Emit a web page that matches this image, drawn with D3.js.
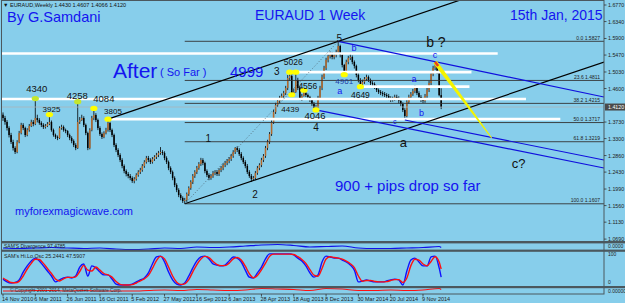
<!DOCTYPE html>
<html>
<head>
<meta charset="utf-8">
<script src="https://cdn.jsdelivr.net/npm/d3@7/dist/d3.min.js"></script>
<style>
body { margin: 0; background: #87ceeb; }
svg { display: block; font-family: "Liberation Sans", Arial, sans-serif; }
</style>
</head>
<body>
<svg id="chart" width="625" height="303"></svg>
<script>
// weekly EURAUD candles, week 0 = 14 Nov 2010
const FIRST_OPEN = 1.3920;
const CLOSES = [
  1.3835,1.3731,1.3575,1.3393,1.3212,1.3056,1.2952,1.3212,1.3445,1.3654,
  1.3575,1.3393,1.3523,1.3628,1.3731,1.3680,1.3835,1.3783,1.3706,1.3654,
  1.3602,1.3628,1.3680,1.3731,1.3523,1.3393,1.3342,1.3316,1.3575,1.3602,
  1.3523,1.3497,1.3393,1.3316,1.3238,1.3134,1.3056,1.3731,1.3783,1.3835,
  1.3654,1.3445,1.3056,1.3523,1.3835,1.3913,1.3783,1.3575,1.3419,1.3342,
  1.3445,1.3523,1.3706,1.3523,1.3393,1.3134,1.3004,1.2874,1.2744,1.2588,
  1.2458,1.2381,1.2329,1.2277,1.2199,1.2251,1.2355,1.2432,1.2484,1.2588,
  1.2692,1.2796,1.2744,1.2692,1.2770,1.2822,1.2874,1.2926,1.2952,1.2926,
  1.2796,1.2692,1.2536,1.2432,1.2277,1.2095,1.1965,1.1835,1.1757,1.1679,
  1.1705,1.1861,1.2017,1.2173,1.2329,1.2432,1.2536,1.2640,1.2744,1.2666,
  1.2458,1.2355,1.2277,1.2329,1.2407,1.2432,1.2381,1.2484,1.2536,1.2614,
  1.2666,1.2718,1.2770,1.2848,1.2952,1.3056,1.3004,1.2900,1.2796,1.2692,
  1.2588,1.2432,1.2329,1.2251,1.2277,1.2407,1.2536,1.2614,1.2744,1.2848,
  1.3056,1.3212,1.3419,1.3731,1.3991,1.4173,1.4277,1.4355,1.4406,1.4484,
  1.4614,1.4874,1.4926,1.4458,1.4510,1.4822,1.4614,1.4355,1.4406,1.4484,
  1.4432,1.4381,1.4303,1.4199,1.4095,1.4121,1.4355,1.4614,1.4900,1.5134,
  1.5342,1.5445,1.5497,1.5419,1.5471,1.5549,1.5705,1.5471,1.5212,1.5030,
  1.5290,1.5394,1.5419,1.5290,1.5186,1.4952,1.4822,1.4718,1.4770,1.4848,
  1.4900,1.4822,1.4744,1.4718,1.4640,1.4562,1.4510,1.4484,1.4458,1.4432,
  1.4406,1.4355,1.4303,1.4329,1.4381,1.4355,1.4277,1.4199,1.4043,1.3887,
  1.4251,1.4381,1.4458,1.4536,1.4614,1.4484,1.4381,1.4303,1.4277,1.4406,
  1.4562,1.4744,1.4978,1.5134,1.5186,1.5030,1.4430,1.4120
];
const HIGHS = [
  1.398,1.389,1.378,1.362,1.345,1.327,1.310,1.326,1.350,1.371,
  1.370,1.361,1.357,1.368,1.379,1.378,1.434,1.392,1.383,1.375,
  1.370,1.368,1.373,1.3925,1.377,1.356,1.343,1.338,1.362,1.366,
  1.364,1.356,1.352,1.343,1.336,1.328,1.318,1.4258,1.386,1.392,
  1.388,1.369,1.348,1.357,1.389,1.4084,1.396,1.382,1.362,1.346,
  1.349,1.358,1.3805,1.374,1.356,1.343,1.318,1.305,1.292,1.279,
  1.263,1.250,1.243,1.238,1.232,1.230,1.240,1.248,1.254,1.264,
  1.274,1.285,1.285,1.279,1.282,1.287,1.293,1.298,1.308,1.300,
  1.297,1.284,1.273,1.258,1.247,1.232,1.214,1.201,1.188,1.180,
  1.176,1.190,1.206,1.222,1.238,1.248,1.259,1.269,1.280,1.279,
  1.270,1.250,1.240,1.238,1.246,1.248,1.248,1.253,1.259,1.266,
  1.272,1.277,1.282,1.290,1.300,1.308,1.310,1.305,1.295,1.284,
  1.274,1.264,1.248,1.238,1.233,1.246,1.259,1.266,1.280,1.290,
  1.311,1.327,1.347,1.379,1.405,1.423,1.434,1.441,1.447,1.454,
  1.467,1.495,1.5026,1.497,1.460,1.5026,1.488,1.466,1.446,1.4556,
  1.452,1.447,1.441,1.434,1.425,1.418,1.441,1.467,1.496,1.519,
  1.540,1.551,1.556,1.555,1.553,1.561,1.5827,1.574,1.552,1.524,
  1.535,1.545,1.550,1.546,1.533,1.522,1.500,1.487,1.483,1.490,
  1.496,1.494,1.486,1.479,1.476,1.468,1.460,1.456,1.453,1.451,
  1.448,1.446,1.440,1.439,1.444,1.444,1.440,1.432,1.424,1.409,
  1.431,1.444,1.451,1.459,1.4692,1.466,1.453,1.443,1.436,1.446,
  1.462,1.480,1.503,1.519,1.5289,1.524,1.508,1.4607
];
const LOWS = [
  1.376,1.366,1.351,1.333,1.316,1.299,1.290,1.292,1.318,1.341,
  1.352,1.334,1.336,1.348,1.360,1.362,1.365,1.372,1.366,1.360,
  1.355,1.356,1.360,1.365,1.348,1.335,1.329,1.326,1.329,1.353,
  1.348,1.344,1.334,1.326,1.318,1.308,1.300,1.303,1.368,1.376,
  1.360,1.339,1.300,1.302,1.349,1.378,1.373,1.352,1.337,1.329,
  1.331,1.341,1.348,1.347,1.334,1.308,1.295,1.282,1.269,1.253,
  1.240,1.232,1.227,1.222,1.215,1.214,1.221,1.231,1.238,1.244,
  1.254,1.265,1.269,1.264,1.265,1.272,1.277,1.282,1.288,1.287,
  1.274,1.264,1.248,1.238,1.222,1.204,1.191,1.178,1.170,1.163,
  1.1607,1.166,1.181,1.197,1.212,1.228,1.238,1.249,1.259,1.261,
  1.240,1.230,1.222,1.223,1.228,1.235,1.233,1.233,1.243,1.248,
  1.256,1.261,1.266,1.272,1.280,1.290,1.295,1.285,1.274,1.264,
  1.253,1.238,1.228,1.2173,1.220,1.223,1.236,1.248,1.256,1.269,
  1.280,1.300,1.316,1.337,1.368,1.394,1.412,1.422,1.430,1.435,
  1.443,1.456,1.480,1.4439,1.445,1.449,1.456,1.430,1.428,1.439,
  1.438,1.432,1.425,1.415,1.405,1.4046,1.409,1.431,1.456,1.485,
  1.508,1.528,1.538,1.536,1.536,1.541,1.550,1.541,1.515,1.4961,
  1.500,1.523,1.534,1.523,1.512,1.489,1.476,1.4649,1.467,1.472,
  1.480,1.477,1.469,1.466,1.459,1.451,1.446,1.443,1.440,1.438,
  1.435,1.430,1.425,1.426,1.428,1.430,1.422,1.414,1.399,1.3783,
  1.385,1.420,1.433,1.441,1.448,1.443,1.433,1.425,1.422,1.423,
  1.435,1.451,1.469,1.492,1.508,1.498,1.440,1.4066
];

const DATE_LABELS = ['14 Nov 2010','6 Mar 2011','26 Jun 2011','16 Oct 2011','5 Feb 2012',
  '27 May 2012','16 Sep 2012','6 Jan 2013','28 Apr 2013','18 Aug 2013','8 Dec 2013',
  '30 Mar 2014','20 Jul 2014','9 Nov 2014'];
const DATE_WEEKS = [0,16,32,48,64,80,96,112,128,144,160,176,192,208];
const PRICE_TICKS = [1.6770,1.6340,1.5900,1.5470,1.5030,1.4600,1.3730,1.3300,1.2860,1.2430,1.1990,1.1560,1.1130,1.0690];
const LAST_PRICE = 1.4120;

const FIB_LEVELS = ['0.0','23.6','38.2','50.0','61.8','100.0'];
const FIB_PRICES = [1.5827,1.4811,1.4215,1.3717,1.3219,1.1607];
const FIB_START_WEEK = 90;

const PIVOT_LABELS = ['4340','3925','4258','4084','3805','5026','','4439','4556','4046','4961','4649'];
const PIVOT_WEEKS  = [16,23,37,45,52,142,145,143,149,155,169,177];
const PIVOT_PRICES = [1.4340,1.3925,1.4258,1.4084,1.3805,1.5026,1.5026,1.4439,1.4556,1.4046,1.4961,1.4649];

const WHITE_LEVELS = [1.5510,1.5026,1.4649,1.4330,1.3805];
const WHITE_FROM   = [-2,142,177,-2,52];
const WHITE_TO     = [245,232,231,259,276];

// trend lines as [week, price] pairs
const CHANNEL_UPPER = [[52,1.3805],[166,1.5827]];
const CHANNEL_LOWER = [[90,1.1607],[217,1.3859]];
const BLUE_UPPER = [[166,1.5827],[297.6,1.4380]];
const BLUE_MID = [[155,1.4046],[297.6,1.2536]];
const BLUE_LOW = [[199,1.3783],[297.6,1.2744]];
const DOTTED = [[90,1.1607],[166,1.5827]];
const YELLOW = [[214,1.5289],[242,1.3315]];

const WAVE_TEXT  = ['1','2','3','4','5','a','b ?','c?'];
const WAVE_WEEKS = [101.7,124.8,135.6,155,166.6,198.3,214.4,255.4];
const WAVE_PRICES = [1.3212,1.1757,1.4952,1.3505,1.5809,1.3082,1.5670,1.2536];
const SUB_TEXT  = ['b','a','a','b','c','c'];
const SUB_WEEKS = [173.8,166.8,203.5,207.2,213.9,194];
const SUB_PRICES = [1.5575,1.4470,1.4770,1.3887,1.5395,1.3679];

// indicator values, every second week, last one = week 217
const HILO_BLUE = [14,4,0,2,11,39,61,79,89,79,61,43,25,4,11,18,21,18,25,57,68,25,61,54,39,29,29,14,-4,-7,
  -7,-7,-4,4,11,18,36,68,93,96,75,39,11,-4,-7,0,25,54,79,93,96,86,68,64,61,64,79,93,89,75,
  46,21,18,36,57,86,104,104,104,104,104,104,100,89,79,61,36,21,29,75,96,93,89,89,82,75,64,46,4,7,
  11,7,4,4,4,7,11,14,11,-7,43,82,89,75,61,61,93,96,54,21];
const HILO_RED = [18,9,2,1,6,25,50,70,85,84,70,52,34,14,7,15,20,20,22,41,63,46,43,57,46,34,29,21,5,-5,
  -7,-7,-6,0,8,15,27,52,80,95,86,57,25,3,-5,-3,12,40,66,86,95,91,77,66,62,62,71,86,91,82,
  60,33,19,27,47,71,95,103,103,103,103,103,102,94,84,70,48,28,24,52,86,94,91,89,85,78,69,55,25,6,
  9,9,6,4,4,5,9,12,12,2,18,62,85,82,68,61,77,94,75,50];
// every eighth week, last one = week 217
const DIVERGENCE = [97.0,96.75,97.0,97.25,97.0,96.75,97.0,96.5,96.25,96.5,97.0,96.75,97.5,97.25,97.5,
  98.0,98.5,98.75,98.25,97.5,97.75,98.0,97.0,96.75,96.75,97.0,97.25,97.75,97.25];
const LOWER_OSC = [4,4,5,5,4,5,4,4,4,5,6,5,7,6,5,6,9,8,7,5,9,8,5,5,6,5,6,9,7];

const LAST_WEEK = CLOSES.length - 1;
const BLUE_TEXT = '#1414f0';

const svg = d3.select('#chart');
const x = d3.scaleLinear().domain([0, 208]).range([3, 423]);
const y = d3.scaleLinear().domain([1.677, 1.069]).range([5, 239.1]);
const yDiv = d3.scaleLinear().domain([95.5, 99.5]).range([251, 243]);
const yOsc = d3.scaleLinear().domain([0, 100]).range([283, 255]);
const yLow = d3.scaleLinear().domain([0, 10]).range([293, 288]);
const RIGHT = 604;
const rightWeek = x.invert(RIGHT);

svg.append('rect').attr('width', 625).attr('height', 303).attr('fill', '#87ceeb');

svg.append('clipPath').attr('id', 'main')
  .append('rect').attr('x', 2).attr('y', 0).attr('width', RIGHT - 2).attr('height', 241);

const main = svg.append('g').attr('clip-path', 'url(#main)');

// candles
const candles = CLOSES.map((c, i) => ({
  i, c, o: i ? CLOSES[i - 1] : FIRST_OPEN, h: HIGHS[i], l: LOWS[i]
}));
const cg = main.append('g');
cg.selectAll('.wick').data(candles).enter().append('line')
  .attr('x1', d => x(d.i)).attr('x2', d => x(d.i))
  .attr('y1', d => y(d.h)).attr('y2', d => y(d.l))
  .attr('stroke', '#000').attr('stroke-width', 0.8);
cg.selectAll('.body').data(candles).enter().append('rect')
  .attr('x', d => x(d.i) - 0.75).attr('width', 1.5)
  .attr('y', d => y(Math.max(d.o, d.c)))
  .attr('height', d => Math.max(0.8, Math.abs(y(d.o) - y(d.c))))
  .attr('fill', d => d.c >= d.o ? '#b5692b' : '#000');

// white horizontal levels
main.selectAll('.white').data(WHITE_LEVELS).enter().append('line')
  .attr('x1', (d, i) => x(WHITE_FROM[i])).attr('x2', (d, i) => x(WHITE_TO[i]))
  .attr('y1', d => y(d)).attr('y2', d => y(d))
  .attr('stroke', '#fff').attr('stroke-width', 2.6);

// bid line
main.append('line').attr('x1', 2).attr('x2', RIGHT)
  .attr('y1', y(LAST_PRICE)).attr('y2', y(LAST_PRICE))
  .attr('stroke', '#a9b4bb').attr('stroke-width', 0.8);

// fibonacci levels
main.selectAll('.fib').data(FIB_PRICES).enter().append('line')
  .attr('x1', x(FIB_START_WEEK)).attr('x2', RIGHT)
  .attr('y1', d => y(d)).attr('y2', d => y(d))
  .attr('stroke', '#333').attr('stroke-width', 0.9);
main.selectAll('.fibt').data(FIB_PRICES).enter().append('text')
  .attr('x', 600).attr('y', d => y(d) - 1.5)
  .attr('text-anchor', 'end').attr('font-size', 5).attr('fill', '#222')
  .text((d, i) => FIB_LEVELS[i] + '  ' + d.toFixed(4));

// trend lines, extended to the right edge where needed
function extend(seg, toWeek) {
  const [[w1, p1], [w2, p2]] = seg;
  const k = (p2 - p1) / (w2 - w1);
  return [[w1, p1], [toWeek, p1 + k * (toWeek - w1)]];
}
function drawSeg(seg, color, width, dash) {
  main.append('line')
    .attr('x1', x(seg[0][0])).attr('y1', y(seg[0][1]))
    .attr('x2', x(seg[1][0])).attr('y2', y(seg[1][1]))
    .attr('stroke', color).attr('stroke-width', width)
    .attr('stroke-dasharray', dash || null);
}
drawSeg(extend(CHANNEL_UPPER, 260), '#000', 1.2);
drawSeg(extend(CHANNEL_LOWER, rightWeek), '#000', 1.2);
drawSeg(BLUE_UPPER, '#1010dd', 1.2);
drawSeg(BLUE_MID, '#1010dd', 1.2);
drawSeg(BLUE_LOW, '#1010dd', 1.2);
drawSeg(DOTTED, '#4a5a66', 0.8, '1,2');

// yellow tapered arrow from the c top
{
  const [a, b] = YELLOW;
  const x1 = x(a[0]), y1 = y(a[1]), x2 = x(b[0]), y2 = y(b[1]);
  const len = Math.hypot(x2 - x1, y2 - y1);
  const nx = -(y2 - y1) / len, ny = (x2 - x1) / len;
  const w1 = 2.2, w2 = 0.5;
  main.append('polygon')
    .attr('points', [[x1 + nx * w1, y1 + ny * w1], [x2 + nx * w2, y2 + ny * w2],
      [x2 - nx * w2, y2 - ny * w2], [x1 - nx * w1, y1 - ny * w1]].map(p => p.join(',')).join(' '))
    .attr('fill', '#f4f400');
  const t = 5 / len;
  main.append('line').attr('x1', x1).attr('y1', y1)
    .attr('x2', x1 + (x2 - x1) * t).attr('y2', y1 + (y2 - y1) * t)
    .attr('stroke', '#e8401a').attr('stroke-width', 2.5);
}

// pivot markers and labels
const pivOffsets = [[1.5,-7],[2,-2.5],[-0.5,-3],[10,-6],[5,-5],[3.5,-7],[0,0],[-1.5,17],[4,-1],[-1,9.5],[0,9],[0,11]];
const pivSizes = [9.5,8,9.5,9.5,8,8.5,8,8,8.5,9.5,8,8.5];
main.selectAll('.piv').data(PIVOT_PRICES).enter().append('ellipse')
  .attr('cx', (d, i) => x(PIVOT_WEEKS[i])).attr('cy', d => y(d))
  .attr('rx', 3.6).attr('ry', 2.6)
  .attr('fill', (d, i) => (i === 0 || i === 2) ? '#c4e62c' : '#ffff00');
main.selectAll('.pivt').data(PIVOT_PRICES).enter().append('text')
  .attr('x', (d, i) => x(PIVOT_WEEKS[i]) + pivOffsets[i][0])
  .attr('y', (d, i) => y(d) + pivOffsets[i][1])
  .attr('text-anchor', 'middle')
  .attr('font-size', (d, i) => pivSizes[i])
  .attr('fill', (d, i) => i === 10 ? '#1f3fa8' : '#111')
  .text((d, i) => PIVOT_LABELS[i]);

// wave counts
const waveSizes = [10,10,10,10,10,13,14,13];
main.selectAll('.wave').data(WAVE_TEXT).enter().append('text')
  .attr('x', (d, i) => x(WAVE_WEEKS[i])).attr('y', (d, i) => y(WAVE_PRICES[i]))
  .attr('text-anchor', 'middle').attr('font-size', (d, i) => waveSizes[i])
  .attr('fill', '#111').text(d => d);
main.selectAll('.sub').data(SUB_TEXT).enter().append('text')
  .attr('x', (d, i) => x(SUB_WEEKS[i])).attr('y', (d, i) => y(SUB_PRICES[i]))
  .attr('text-anchor', 'middle').attr('font-size', (d, i) => i === 5 ? 7 : 9)
  .attr('fill', BLUE_TEXT).text(d => d);

// headline texts
const texts = [
  ['By G.Samdani', 7, 22, 14.5],
  ['EURAUD 1 Week', 255, 20, 14],
  ['15th Jan, 2015', 510, 20, 14],
  ['After', 113, 78, 21],
  ['( So Far )', 160, 76, 11],
  ['4999', 230, 77, 15],
  ['900 + pips drop so far', 335, 191, 15],
  ['myforexmagicwave.com', 15, 215, 11]
];
main.selectAll('.head').data(texts).enter().append('text')
  .attr('x', d => d[1]).attr('y', d => d[2]).attr('font-size', d => d[3])
  .attr('fill', BLUE_TEXT).text(d => d[0]);
main.append('text').attr('x', 3).attr('y', 7).attr('font-size', 5.5).attr('fill', '#111')
  .text('\u25BC EURAUD,Weekly  1.4430 1.4607 1.4066 1.4120');

// indicator panels
const oscWeeks = HILO_BLUE.map((d, i) => Math.min(i * 2, LAST_WEEK));
const slowWeeks = DIVERGENCE.map((d, i) => Math.min(i * 8, LAST_WEEK));
const curve = d3.curveMonotoneX;
svg.append('path').datum(DIVERGENCE)
  .attr('d', d3.line().x((d, i) => x(slowWeeks[i])).y(d => yDiv(d)).curve(curve))
  .attr('fill', 'none').attr('stroke', '#1010e8').attr('stroke-width', 1.2);
svg.append('path').datum(HILO_BLUE)
  .attr('d', d3.line().x((d, i) => x(oscWeeks[i])).y(d => yOsc(d)).curve(curve))
  .attr('fill', 'none').attr('stroke', '#1010ff').attr('stroke-width', 1.4);
svg.append('path').datum(HILO_RED)
  .attr('d', d3.line().x((d, i) => x(oscWeeks[i])).y(d => yOsc(d)).curve(curve))
  .attr('fill', 'none').attr('stroke', '#ff1010').attr('stroke-width', 1.4);
svg.append('path').datum(LOWER_OSC)
  .attr('d', d3.line().x((d, i) => x(slowWeeks[i])).y(d => yLow(d)).curve(curve))
  .attr('fill', 'none').attr('stroke', '#ff1010').attr('stroke-width', 1.1);

svg.append('text').attr('x', 4).attr('y', 248).attr('font-size', 5).attr('fill', '#222')
  .text("SAM'S Divergence 97.4785");
svg.append('text').attr('x', 4).attr('y', 257.5).attr('font-size', 5.3).attr('fill', '#222')
  .text("SAM's Hi.Lo.Osc 25.2441 47.5907");
svg.append('text').attr('x', 10).attr('y', 292).attr('font-size', 4.8).attr('fill', '#333')
  .text('\u00A9 Copyright 2001-2014, MetaQuotes Software Corp.');

// panel separators and frame
[[241, 2.4], [249.6, 2.2], [286, 2.2]].forEach(([yy, h]) => {
  svg.append('rect').attr('x', 1).attr('y', yy).attr('width', RIGHT - 1).attr('height', h).attr('fill', '#4b585e');
  svg.append('rect').attr('x', RIGHT).attr('y', yy).attr('width', 21).attr('height', h).attr('fill', '#4b585e');
});
svg.append('rect').attr('x', 1.5).attr('y', 0.5).attr('width', RIGHT - 1.5).attr('height', 293.5)
  .attr('fill', 'none').attr('stroke', '#4b585e').attr('stroke-width', 1);

// price axis
const pa = svg.append('g');
pa.selectAll('line').data(PRICE_TICKS).enter().append('line')
  .attr('x1', RIGHT).attr('x2', RIGHT + 2.5).attr('y1', d => y(d)).attr('y2', d => y(d))
  .attr('stroke', '#333').attr('stroke-width', 0.8);
pa.selectAll('text').data(PRICE_TICKS).enter().append('text')
  .attr('x', RIGHT + 4).attr('y', d => y(d) + 2).attr('font-size', 5.3).attr('fill', '#222')
  .text(d => d.toFixed(4));
pa.append('rect').attr('x', RIGHT + 1).attr('y', y(LAST_PRICE) - 3.5).attr('width', 20).attr('height', 7)
  .attr('fill', '#4a4a4a');
pa.append('text').attr('x', RIGHT + 4).attr('y', y(LAST_PRICE) + 2).attr('font-size', 5.3).attr('fill', '#fff')
  .text(LAST_PRICE.toFixed(4));
[['0.0000', 248], ['100', 256], ['0', 284], ['0.00000', 292.5]].forEach(([t, yy]) => {
  pa.append('text').attr('x', RIGHT + 4).attr('y', yy).attr('font-size', 5).attr('fill', '#222').text(t);
});

// time axis
const ta = svg.append('g');
ta.selectAll('line').data(DATE_WEEKS).enter().append('line')
  .attr('x1', d => x(d)).attr('x2', d => x(d)).attr('y1', 294).attr('y2', 296.5)
  .attr('stroke', '#333').attr('stroke-width', 0.8);
ta.selectAll('text').data(DATE_WEEKS).enter().append('text')
  .attr('x', d => x(d) - 1).attr('y', 301).attr('font-size', 5.5).attr('fill', '#222')
  .text((d, i) => DATE_LABELS[i]);
</script>
</body>
</html>
